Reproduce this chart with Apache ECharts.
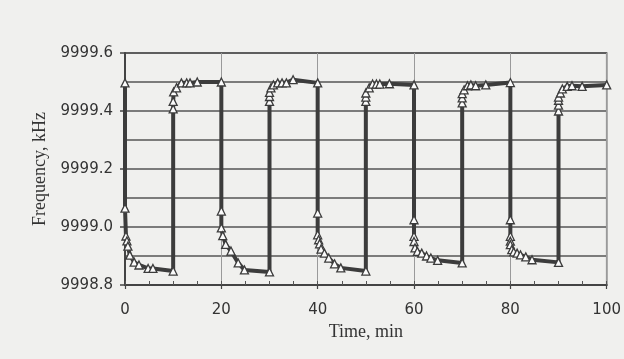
<!DOCTYPE html>
<html>
<head>
<meta charset="utf-8">
<script src="https://cdn.jsdelivr.net/npm/echarts@6/dist/echarts.min.js"></script>
<style>
html,body{margin:0;padding:0;background:#f0f0ee;}
#chart{width:624px;height:359px;}
</style>
</head>
<body>
<div id="chart"></div>
<script>
// Time (min) of each measured point
const times = [
  0,
  0, 0.2, 0.4, 0.6, 1.0, 1.9, 2.9, 4.8, 5.8, 10,
  10, 10, 10.1, 10.7, 11.7, 12.8, 13.5, 15, 20,
  20, 20, 20.3, 20.9, 22, 23.5, 24.8, 30,
  30, 30, 30, 30.3, 30.8, 31.7, 32.6, 33.5, 34.9, 40,
  40, 40, 40.2, 40.4, 40.7, 41.4, 42.3, 43.5, 44.8, 50,
  50, 50, 50, 50.7, 51.4, 52.2, 52.9, 54.9, 60,
  60, 60, 60, 60.2, 60.7, 61.6, 62.6, 63.5, 64.9, 70,
  70, 70, 70, 70.4, 71.1, 71.8, 72.8, 74.9, 80,
  80, 80, 80, 80, 80.3, 80.7, 81.4, 82.1, 83.2, 84.5, 90,
  90, 90, 90, 90, 90.4, 90.8, 91.8, 92.8, 94.9, 100
];
// Frequency (kHz) at each point
const freqs = [
  9999.497,
  9999.065, 9998.969, 9998.952, 9998.934, 9998.903, 9998.879, 9998.869, 9998.857, 9998.857, 9998.848,
  9999.407, 9999.433, 9999.466, 9999.480, 9999.497, 9999.497, 9999.497, 9999.500, 9999.500,
  9999.055, 9998.997, 9998.970, 9998.940, 9998.917, 9998.876, 9998.852, 9998.845,
  9999.433, 9999.450, 9999.464, 9999.480, 9999.490, 9999.497, 9999.497, 9999.497, 9999.508, 9999.497,
  9999.048, 9998.973, 9998.956, 9998.942, 9998.924, 9998.910, 9998.893, 9998.873, 9998.859, 9998.848,
  9999.433, 9999.448, 9999.462, 9999.480, 9999.493, 9999.493, 9999.493, 9999.494, 9999.490,
  9999.025, 9998.968, 9998.950, 9998.928, 9998.916, 9998.910, 9998.900, 9998.893, 9998.885, 9998.876,
  9999.428, 9999.445, 9999.460, 9999.473, 9999.487, 9999.490, 9999.487, 9999.490, 9999.498,
  9999.025, 9998.968, 9998.951, 9998.939, 9998.922, 9998.914, 9998.910, 9998.904, 9998.897, 9998.887, 9998.878,
  9999.400, 9999.420, 9999.437, 9999.448, 9999.462, 9999.476, 9999.485, 9999.487, 9999.485, 9999.490
];
const xTickLabels = ['0', '20', '40', '60', '80', '100'];
const yTickLabels = ['9998.8', '9999.0', '9999.2', '9999.4', '9999.6'];
const xName = 'Time, min';
const yName = 'Frequency, kHz';

const points = times.map((t, i) => [t, freqs[i]]);
const dark = '#3c3c3c';

const chart = echarts.init(document.getElementById('chart'), null, {renderer: 'canvas'});
chart.setOption({
  backgroundColor: '#f0f0ee',
  animation: false,
  grid: {left: 125, right: 16, top: 53, bottom: 74, show: true, borderColor: '#555', borderWidth: 1.5, backgroundColor: 'transparent'},
  xAxis: [{
    type: 'value', min: 0, max: 100, interval: 20,
    name: xName, nameLocation: 'middle', nameGap: 37,
    nameTextStyle: {fontFamily: 'Liberation Serif', fontSize: 18, color: '#333'},
    axisLine: {show: true, onZero: false, lineStyle: {color: '#444', width: 2}},
    axisTick: {show: true, length: 4, lineStyle: {color: '#444', width: 1.2}},
    axisLabel: {margin: 18, fontFamily: 'DejaVu Sans', fontSize: 15, color: '#333',
      formatter: v => xTickLabels[xTickLabels.indexOf(String(Math.round(v)))] || ''},
    splitLine: {show: true, lineStyle: {color: '#9a9a9a', width: 1}}
  }, {
    type: 'value', min: 0, max: 100, interval: 5, position: 'bottom',
    axisLine: {show: false}, axisLabel: {show: false}, splitLine: {show: false},
    axisTick: {show: true, inside: true, length: 4, lineStyle: {color: '#555', width: 1}}
  }],
  yAxis: {
    type: 'value', min: 9998.8, max: 9999.6, interval: 0.2,
    name: yName, nameLocation: 'middle', nameGap: 76,
    nameTextStyle: {fontFamily: 'Liberation Serif', fontSize: 18, color: '#333'},
    axisLine: {show: true, onZero: false, lineStyle: {color: '#444', width: 2}},
    axisTick: {show: true, length: 5, lineStyle: {color: '#444', width: 1.5}},
    axisLabel: {margin: 12, fontFamily: 'DejaVu Sans', fontSize: 15, color: '#333',
      formatter: v => yTickLabels.find(s => Math.abs(parseFloat(s) - v) < 1e-6) || ''},
    splitLine: {show: true, lineStyle: {color: '#555', width: 1.5}},
    minorTick: {show: false, splitNumber: 2},
    minorSplitLine: {show: true, lineStyle: {color: '#555', width: 1.5}}
  },
  series: [{
    type: 'line',
    data: points,
    symbol: 'triangle',
    symbolSize: 8,
    showAllSymbol: true,
    lineStyle: {color: dark, width: 4},
    itemStyle: {color: '#fbfbfb', borderColor: dark, borderWidth: 1.3},
    z: 5
  }]
});
</script>
</body>
</html>
